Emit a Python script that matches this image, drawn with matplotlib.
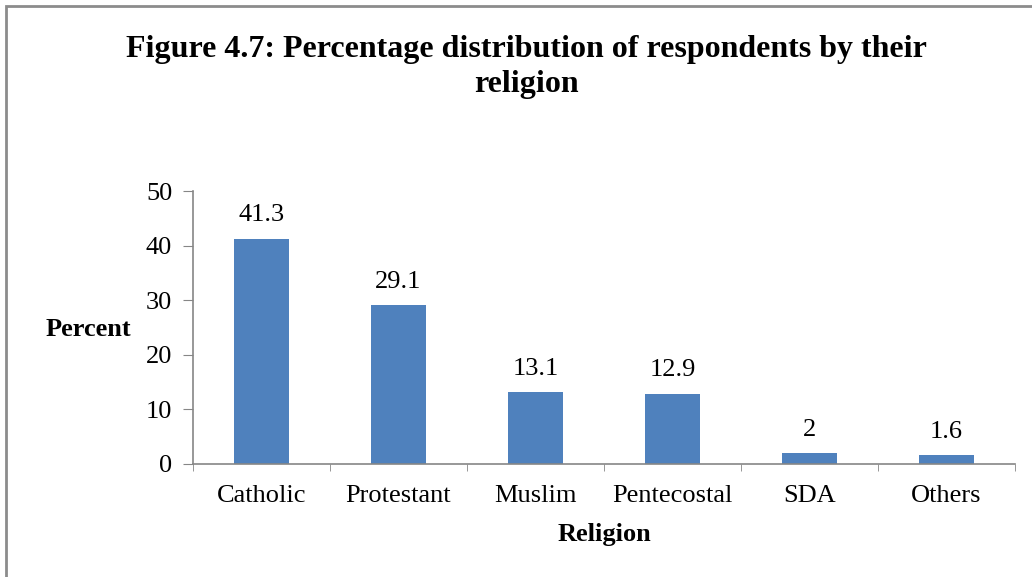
import matplotlib
matplotlib.use("Agg")
import matplotlib.pyplot as plt
from matplotlib.patches import Rectangle

categories = ["Catholic", "Protestant", "Muslim", "Pentecostal", "SDA", "Others"]
values = [41.3, 29.1, 13.1, 12.9, 2, 1.6]
labels = ["41.3", "29.1", "13.1", "12.9", "2", "1.6"]
yticks = [0, 10, 20, 30, 40, 50]

plt.rcParams['font.family'] = ['Liberation Serif', 'DejaVu Serif']

FS = 19
fig = plt.figure(figsize=(10.32, 5.77), dpi=100)
W, H = 1032, 577
ax = fig.add_axes([193 / W, 1 - 464 / H, (1015 - 193) / W, (464 - 191) / H])

x = list(range(len(categories)))
ax.bar(x, values, width=0.4, color="#4F81BD")
for xi, v, lab in zip(x, values, labels):
    ax.text(xi, v + 4.3, lab, ha="center", va="center", fontsize=FS)

ax.set_xlim(-0.5, len(categories) - 0.5)
ax.set_ylim(0, 50)
ax.set_yticks(yticks)
ax.set_xticks(x)
ax.set_xticklabels(categories, fontsize=FS)
ax.set_xticks([i - 0.5 for i in range(len(categories) + 1)], minor=True)
ax.tick_params(axis="x", which="major", length=0, pad=15)
ax.tick_params(axis="x", which="minor", length=5, color="#868686", direction="out")
ax.tick_params(axis="y", length=7, color="#868686", labelsize=FS, pad=8)
for s in ["top", "right"]:
    ax.spines[s].set_visible(False)
for s in ["left", "bottom"]:
    ax.spines[s].set_color("#868686")
    ax.spines[s].set_linewidth(1.2)

fig.text(131 / W, 1 - 329 / H, "Percent", ha="right", va="center", fontsize=FS, fontweight="bold")
fig.text(604 / W, 1 - 534 / H, "Religion", ha="center", va="center", fontsize=FS, fontweight="bold")
fig.text(526 / W, 1 - 67 / H, "Figure 4.7: Percentage distribution of respondents by their\nreligion",
         ha="center", va="center", fontsize=23, fontweight="bold", linespacing=1.24)

fig.patches.append(Rectangle((6 / W, -0.1), 1.2, 1 - 6 / H + 0.1, transform=fig.transFigure,
                             fill=False, edgecolor="#8C8C8C", linewidth=2, clip_on=False))

fig.savefig("out.png", dpi=100)
